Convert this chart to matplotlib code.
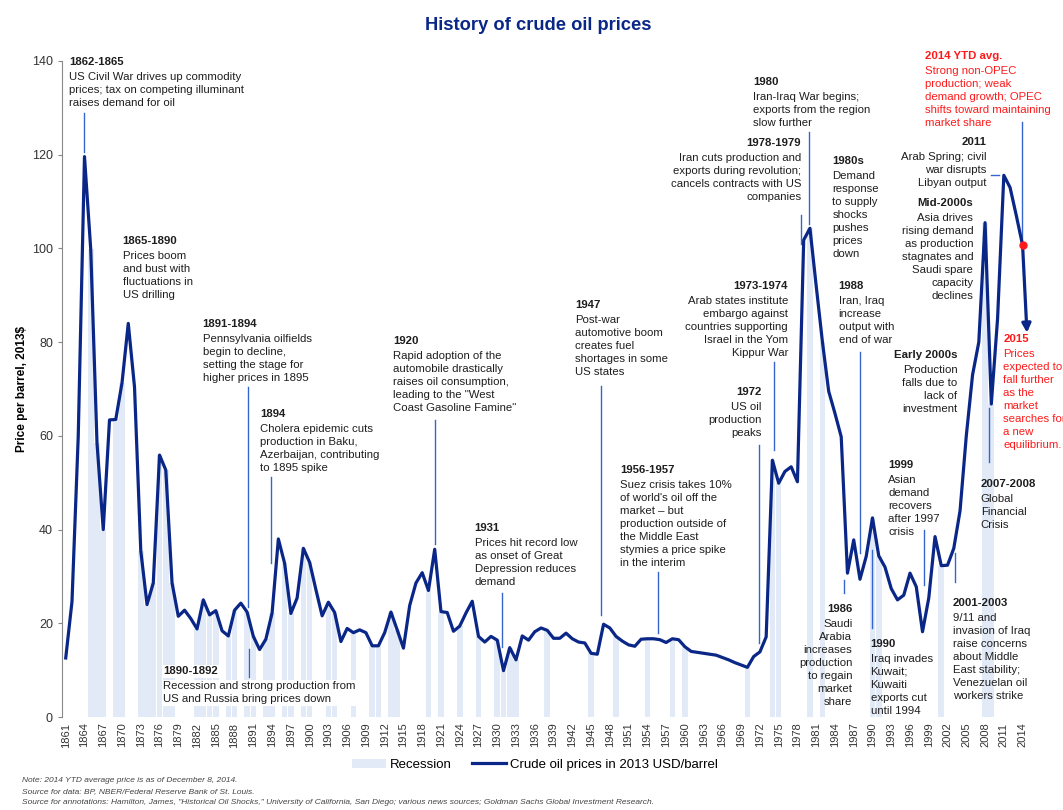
import numpy as np
import matplotlib
matplotlib.use("Agg")
import matplotlib.pyplot as plt
from matplotlib.patches import Patch
from matplotlib.lines import Line2D

plt.rcParams['font.family'] = ['Liberation Sans', 'DejaVu Sans']

# crude oil price, 2013 USD per barrel (BP), one value per year 1861-2014
years = np.arange(1861, 2015)
prices = [
    12.6, 24.6, 59.9, 119.6, 99.8, 58.5, 40.0, 63.4, 63.5, 71.3,      # 1861-1870
    84.0, 70.4, 35.5, 24.0, 28.6, 55.9, 52.7, 28.6, 21.5, 22.8,       # 1871-1880
    21.0, 18.8, 25.0, 21.8, 22.7, 18.4, 17.3, 22.8, 24.3, 22.4,       # 1881-1890
    17.2, 14.4, 16.6, 22.2, 38.0, 32.8, 22.1, 25.4, 36.0, 33.0,       # 1891-1900
    27.2, 21.6, 24.5, 22.3, 16.1, 18.9, 18.0, 18.6, 18.0, 15.2,       # 1901-1910
    15.2, 18.0, 22.4, 18.6, 14.7, 23.8, 28.6, 30.8, 27.0, 35.8,       # 1911-1920
    22.5, 22.3, 18.3, 19.4, 22.2, 24.7, 17.2, 16.0, 17.2, 16.4,       # 1921-1930
    9.9, 14.8, 12.2, 17.3, 16.4, 18.2, 19.0, 18.5, 16.8, 16.8,        # 1931-1940
    17.9, 16.7, 16.0, 15.8, 13.6, 13.4, 19.8, 19.0, 17.2, 16.2,       # 1941-1950
    15.4, 15.1, 16.6, 16.7, 16.7, 16.5, 15.9, 16.7, 16.5, 15.0,       # 1951-1960
    14.0, 13.8, 13.6, 13.4, 13.2, 12.7, 12.2, 11.6, 11.1, 10.6,       # 1961-1970
    12.9, 13.9, 17.1, 54.8, 49.9, 52.4, 53.4, 50.2, 101.8, 104.3,     # 1971-1980
    92.0, 80.0, 69.5, 64.8, 59.8, 30.7, 37.8, 29.4, 34.3, 42.5,       # 1981-1990
    34.4, 32.0, 27.4, 25.0, 26.0, 30.7, 27.8, 18.2, 25.4, 38.5,       # 1991-2000
    32.3, 32.4, 36.0, 44.0, 60.0, 73.0, 80.0, 105.5, 66.8, 85.0,      # 2001-2010
    115.6, 113.0, 107.0, 100.7,                                       # 2011-2014
]
price_of = dict(zip(years, prices))

# 2015 expectation arrow end
arrow_year, arrow_price = 2014.7, 82.0

# NBER recession years
recession_years = [1865, 1866, 1867, 1869, 1870, 1873, 1874, 1875, 1876, 1877,
                   1878, 1882, 1883, 1884, 1885, 1887, 1888, 1890, 1891, 1893,
                   1894, 1896, 1897, 1899, 1900, 1903, 1904, 1907, 1910, 1911,
                   1913, 1914, 1919, 1921, 1924, 1927, 1930, 1931, 1932, 1933,
                   1938, 1945, 1949, 1954, 1958, 1960, 1970, 1974, 1975, 1980,
                   1982, 1990, 1991, 2001, 2008, 2009]

# annotations: header, body, x (year), top (price), alignment, colour
notes = [
    ("1862-1865", "US Civil War drives up commodity\nprices; tax on competing illuminant\nraises demand for oil", 1861.5, 140.8, 'left', 'k'),
    ("1865-1890", "Prices boom\nand bust with\nfluctuations in\nUS drilling", 1870.1, 102.6, 'left', 'k'),
    ("1891-1894", "Pennsylvania oilfields\nbegin to decline,\nsetting the stage for\nhigher prices in 1895", 1882.9, 84.9, 'left', 'k'),
    ("1894", "Cholera epidemic cuts\nproduction in Baku,\nAzerbaijan, contributing\nto 1895 spike", 1892.1, 65.7, 'left', 'k'),
    ("1890-1892", "Recession and strong production from\nUS and Russia bring prices down", 1876.6, 10.8, 'left', 'k'),
    ("1920", "Rapid adoption of the\nautomobile drastically\nraises oil consumption,\nleading to the \"West\nCoast Gasoline Famine\"", 1913.4, 81.3, 'left', 'k'),
    ("1931", "Prices hit record low\nas onset of Great\nDepression reduces\ndemand", 1926.4, 41.4, 'left', 'k'),
    ("1947", "Post-war\nautomotive boom\ncreates fuel\nshortages in some\nUS states", 1942.5, 89.0, 'left', 'k'),
    ("1956-1957", "Suez crisis takes 10%\nof world's oil off the\nmarket \u2013 but\nproduction outside of\nthe Middle East\nstymies a price spike\nin the interim", 1949.7, 53.8, 'left', 'k'),
    ("1972", "US oil\nproduction\npeaks", 1972.2, 70.4, 'right', 'k'),
    ("1973-1974", "Arab states institute\nembargo against\ncountries supporting\nIsrael in the Yom\nKippur War", 1976.5, 93.0, 'right', 'k'),
    ("1978-1979", "Iran cuts production and\nexports during revolution;\ncancels contracts with US\ncompanies", 1978.6, 123.6, 'right', 'k'),
    ("1980", "Iran-Iraq War begins;\nexports from the region\nslow further", 1970.9, 136.6, 'left', 'k'),
    ("1980s", "Demand\nresponse\nto supply\nshocks\npushes\nprices\ndown", 1983.6, 119.7, 'left', 'k'),
    ("1988", "Iran, Iraq\nincrease\noutput with\nend of war", 1984.6, 93.0, 'left', 'k'),
    ("1986", "Saudi\nArabia\nincreases\nproduction\nto regain\nmarket\nshare", 1986.8, 24.1, 'right', 'k'),
    ("1990", "Iraq invades\nKuwait;\nKuwaiti\nexports cut\nuntil 1994", 1989.7, 16.6, 'left', 'k'),
    ("Early 2000s", "Production\nfalls due to\nlack of\ninvestment", 2003.6, 78.3, 'right', 'k'),
    ("1999", "Asian\ndemand\nrecovers\nafter 1997\ncrisis", 1992.5, 54.8, 'left', 'k'),
    ("2001-2003", "9/11 and\ninvasion of Iraq\nraise concerns\nabout Middle\nEast stability;\nVenezuelan oil\nworkers strike", 2002.8, 25.4, 'left', 'k'),
    ("2007-2008", "Global\nFinancial\nCrisis", 2007.3, 50.8, 'left', 'k'),
    ("Mid-2000s", "Asia drives\nrising demand\nas production\nstagnates and\nSaudi spare\ncapacity\ndeclines", 2006.1, 110.8, 'right', 'k'),
    ("2011", "Arab Spring; civil\nwar disrupts\nLibyan output", 2008.2, 123.8, 'right', 'k'),
    ("2014 YTD avg.", "Strong non-OPEC\nproduction; weak\ndemand growth; OPEC\nshifts toward maintaining\nmarket share", 1998.4, 142.1, 'left', 'r'),
    ("2015", "Prices\nexpected to\nfall further\nas the\nmarket\nsearches for\na new\nequilibrium.", 2010.9, 81.7, 'left', 'r'),
]

# vertical leader lines: year, low, high
leaders = [
    (1864, 120.6, 128.8), (1890.1, 23.5, 70.5), (1893.8, 32.8, 51.3),
    (1890.3, 8.6, 14.6), (1920.1, 37.0, 63.4), (1930.8, 15.0, 26.4),
    (1946.6, 21.8, 70.6), (1955.7, 17.9, 31.0), (1971.8, 15.7, 58.0),
    (1974.3, 57.0, 75.8), (1978.5, 101.0, 107.1), (1979.9, 105.3, 124.9),
    (1988, 35.0, 78.0), (1985.4, 26.4, 29.2), (1990, 18.9, 35.6),
    (1998.2, 28.2, 39.9), (2003.2, 28.9, 35.0), (2008.7, 54.5, 65.9),
    (2013.9, 101.5, 127.0),
]

navy = '#0a2788'
lead_col = '#3566d0'
rec_col = '#e2eaf7'
red = '#ff1a1a'

fig = plt.figure(figsize=(10.63, 8.10), dpi=100)
ax = fig.add_axes([0.0583, 0.1148, 0.9125, 0.8099])

rec_h = [price_of[y] for y in recession_years]
ax.bar(recession_years, rec_h, width=0.9, color=rec_col, zorder=1)

for x, y0, y1 in leaders:
    ax.plot([x, x], [y0, y1], color=lead_col, lw=1, zorder=2)
ax.plot([2009.0, 2010.3], [115.7, 115.7], color=lead_col, lw=1, zorder=2)

ax.plot(years, prices, color=navy, lw=2.3, zorder=3, solid_joinstyle='round')
ax.annotate('', xy=(arrow_year, arrow_price), xytext=(2014, price_of[2014]),
            arrowprops=dict(arrowstyle='-|>', color=navy, lw=2.3,
                            mutation_scale=13, shrinkA=0, shrinkB=0), zorder=3)
ax.plot(2014, price_of[2014], 'o', color=red, ms=5, zorder=5)

for head, body, x, top, ha, c in notes:
    col = red if c == 'r' else '#1e1e1e'
    bb = dict(facecolor='white', edgecolor='none', pad=1) if head == "1890-1892" else None
    ax.text(x, top, head, ha=ha, va='top', fontsize=8.2, weight='bold', color=col,
            zorder=4, bbox=bb)
    ax.annotate(body, xy=(x, top), xytext=(0, -10.6), textcoords='offset points',
                ha=ha, va='top', fontsize=8.2, color=col, linespacing=1.38,
                zorder=4, bbox=bb, annotation_clip=False)

ax.set_xlim(1860.4, 2015.5)
ax.set_ylim(0, 140)
ax.set_yticks(range(0, 141, 20))
ax.set_xticks(years[::3])
ax.set_xticklabels([str(y) for y in years[::3]], rotation=90, fontsize=8, color='#333333')
ax.tick_params(axis='x', length=0, pad=4)
ax.tick_params(axis='y', labelsize=9, labelcolor='#333333', color='#888888', length=3, width=0.8)
for s in ['top', 'right', 'bottom']:
    ax.spines[s].set_visible(False)
ax.spines['left'].set_color('#888888')
ax.spines['left'].set_linewidth(0.8)
ax.set_ylabel('Price per barrel, 2013$', fontsize=8.5, weight='bold', labelpad=3)

fig.text(0.506, 1 - 25 / 810, 'History of crude oil prices', ha='center', va='center',
         fontsize=13.2, weight='bold', color=navy)

handles = [Patch(facecolor=rec_col, edgecolor='none'),
           Line2D([0], [0], color=navy, lw=2.3)]
fig.legend(handles, ['Recession', 'Crude oil prices in 2013 USD/barrel'],
           loc='center', bbox_to_anchor=(0.503, 0.0556), ncol=2, frameon=False,
           fontsize=9.5, handlelength=2.6, columnspacing=1.5, handletextpad=0.3)

foot = [
    "Note: 2014 YTD average price is as of December 8, 2014.",
    "Source for data: BP, NBER/Federal Reserve Bank of St. Louis.",
    "Source for annotations: Hamilton, James, \"Historical Oil Shocks,\" University of California, San Diego; various news sources; Goldman Sachs Global Investment Research.",
]
for i, t in enumerate(foot):
    fig.text(0.0207, 1 - (780 + 11.5 * i) / 810, t, fontsize=6, style='italic',
             color='#444444', va='center')

fig.savefig('out.png', dpi=100)
